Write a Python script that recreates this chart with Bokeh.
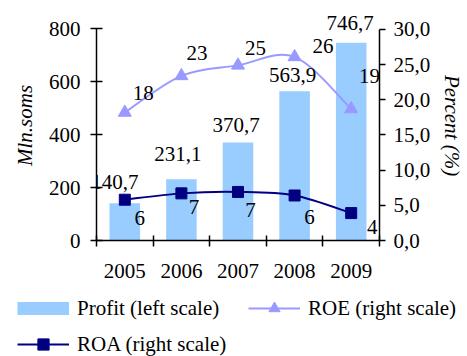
from bokeh.plotting import figure
from bokeh.layouts import column
from bokeh.models import (ColumnDataSource, Range1d, LinearAxis, FixedTicker,
                          CustomJSTickFormatter, LabelSet, Legend, LegendItem)
from bokeh.core.properties import value
from bokeh.embed import file_html
from bokeh.resources import INLINE

# ---- data ---------------------------------------------------------------
years = ["2005", "2006", "2007", "2008", "2009"]
profit = [140.7, 231.1, 370.7, 563.9, 746.7]          # Mln. soms
roe = [18.2, 23.4, 24.9, 26.1, 18.7]                  # %
roa = [5.8, 6.7, 6.9, 6.4, 3.9]                       # %
left_ticks = [0, 200, 400, 600, 800]
right_ticks = [0, 5, 10, 15, 20, 25, 30]

# ---- label placement (screen px, y up) ----------------------------------
bar_dx = [-10, -3.5, -2, -2, -1]
bar_dy = [14.5, 18.8, 10.2, 9.1, 12.4]
roe_dx = [18.4, 15.7, 17.5, 28.3, 18.3]
roe_dy = [19, 22.5, 17.5, 10.9, 32.5]
roa_dx = [15, 12.6, 12.4, 15, 21]
roa_dy = [-18, -14, -18.3, -21.7, -14.4]

FONT = "Liberation Serif"
FS = "21px"
BAR_COLOR = "#99CCFF"
ROE_COLOR = "#9999FF"
ROA_COLOR = "#000080"

n = len(years)
xc = [i + 0.5 for i in range(n)]


def comma(v, digits):
    return f"{v:.{digits}f}".replace(".", ",")


def smooth_segments(xs, ys):
    """Cubic Bezier pieces through the points (Catmull-Rom style smoothing)."""
    seg = dict(x0=[], y0=[], x1=[], y1=[], cx0=[], cy0=[], cx1=[], cy1=[])
    m = len(xs)
    for i in range(m - 1):
        xp, yp = (xs[i - 1], ys[i - 1]) if i > 0 else (xs[i], ys[i])
        xn, yn = (xs[i + 2], ys[i + 2]) if i + 2 < m else (xs[i + 1], ys[i + 1])
        seg["x0"].append(xs[i]); seg["y0"].append(ys[i])
        seg["x1"].append(xs[i + 1]); seg["y1"].append(ys[i + 1])
        seg["cx0"].append(xs[i] + (xs[i + 1] - xp) / 6)
        seg["cy0"].append(ys[i] + (ys[i + 1] - yp) / 6)
        seg["cx1"].append(xs[i + 1] - (xn - xs[i]) / 6)
        seg["cy1"].append(ys[i + 1] - (yn - ys[i]) / 6)
    return seg


src = ColumnDataSource(dict(
    x=xc, profit=profit, roe=roe, roa=roa,
    plabel=[comma(v, 1) for v in profit],
    elabel=[f"{v:.0f}" for v in roe],
    alabel=[f"{v:.0f}" for v in roa],
    bdx=bar_dx, bdy=bar_dy, edx=roe_dx, edy=roe_dy, adx=roa_dx, ady=roa_dy,
))

p = figure(width=467, height=288, output_backend="svg", toolbar_location=None,
           x_range=Range1d(0, n), y_range=Range1d(0, 869),
           min_border_left=96, min_border_right=84,
           min_border_top=10, min_border_bottom=48)
p.frame_align = False
p.extra_y_ranges = {"pct": Range1d(0, 32.7)}
p.xgrid.visible = False
p.ygrid.visible = False
p.outline_line_color = None
p.background_fill_color = "white"
p.border_fill_color = "white"

# ---- marks --------------------------------------------------------------
p.vbar(x="x", top="profit", width=0.54, source=src,
       fill_color=BAR_COLOR, line_color=None)

p.bezier(source=ColumnDataSource(smooth_segments(xc, roe)),
         x0="x0", y0="y0", x1="x1", y1="y1", cx0="cx0", cy0="cy0", cx1="cx1", cy1="cy1",
         line_color=ROE_COLOR, line_width=2, y_range_name="pct")
p.scatter("x", "roe", source=src, marker="triangle", size=13,
          fill_color=ROE_COLOR, line_color=ROE_COLOR, y_range_name="pct")

p.bezier(source=ColumnDataSource(smooth_segments(xc, roa)),
         x0="x0", y0="y0", x1="x1", y1="y1", cx0="cx0", cy0="cy0", cx1="cx1", cy1="cy1",
         line_color=ROA_COLOR, line_width=2, y_range_name="pct")
p.scatter("x", "roa", source=src, marker="square", size=11,
          fill_color=ROA_COLOR, line_color=ROA_COLOR, y_range_name="pct")

# ---- value labels -------------------------------------------------------
common = dict(source=src, text_font=value(FONT), text_font_size=FS, text_color="black")
p.add_layout(LabelSet(x="x", y="profit", text="plabel", x_offset="bdx", y_offset="bdy",
                      text_align="center", text_baseline="alphabetic", **common))
p.add_layout(LabelSet(x="x", y="roe", text="elabel", x_offset="edx", y_offset="edy",
                      text_align="center", text_baseline="middle",
                      y_range_name="pct", **common))
p.add_layout(LabelSet(x="x", y="roa", text="alabel", x_offset="adx", y_offset="ady",
                      text_align="center", text_baseline="middle",
                      y_range_name="pct", **common))

# ---- axes ---------------------------------------------------------------
def style_axis(ax):
    ax.axis_line_color = "black"
    ax.axis_line_width = 1.5
    ax.major_tick_line_color = "black"
    ax.major_tick_line_width = 1.5
    ax.minor_tick_line_color = None
    ax.major_label_text_font = FONT
    ax.major_label_text_font_size = FS
    ax.major_label_text_color = "black"
    ax.axis_label_text_font = FONT
    ax.axis_label_text_font_size = FS
    ax.axis_label_text_font_style = "italic"
    ax.axis_label_text_color = "black"


left = p.yaxis[0]
style_axis(left)
left.ticker = FixedTicker(ticks=left_ticks)
left.bounds = (0, 800)
left.major_tick_in = 6
left.major_tick_out = 6
left.major_label_standoff = 10
left.axis_label = "Mln.soms"
left.axis_label_standoff = 9

right = LinearAxis(y_range_name="pct", ticker=FixedTicker(ticks=right_ticks),
                   formatter=CustomJSTickFormatter(code="return tick.toFixed(1).replace('.', ',');"),
                   bounds=(0, 30), axis_label="Percent (%)")
style_axis(right)
right.major_tick_in = 0
right.major_tick_out = 6
right.major_label_standoff = 8
right.axis_label_standoff = 7
p.add_layout(right, "right")

bottom = p.xaxis[0]
style_axis(bottom)
bottom.bounds = (0, n)
bottom.ticker = FixedTicker(ticks=xc, minor_ticks=list(range(n + 1)))
bottom.major_label_overrides = {x: y for x, y in zip(xc, years)}
bottom.major_tick_line_color = None
bottom.major_tick_in = 0
bottom.major_tick_out = 0
bottom.minor_tick_line_color = "black"
bottom.minor_tick_line_width = 1.5
bottom.minor_tick_in = 5
bottom.minor_tick_out = 6
bottom.major_label_standoff = 17

# ---- legend strip under the chart ---------------------------------------
# The strip's ranges sit away from the data, so its renderers only lend
# their styling to the legend keys.
lf = figure(width=467, height=68, output_backend="svg", toolbar_location=None,
            x_range=Range1d(0, 1), y_range=Range1d(-2, -1),
            x_axis_location=None, y_axis_location=None,
            min_border=0, min_border_left=0, min_border_right=0,
            min_border_top=0, min_border_bottom=0, outline_line_color=None)
lf.frame_align = False
lf.xgrid.visible = False
lf.ygrid.visible = False
lf.border_fill_color = "white"
lf.background_fill_color = "white"

swatch = lf.line("x", "profit", source=src, line_color=BAR_COLOR, line_width=13, line_cap="butt")
roe_key = lf.line("x", "roe", source=src, line_color=ROE_COLOR, line_width=2)
roe_mark = lf.scatter("x", "roe", source=src, marker="triangle", size=13,
                      fill_color=ROE_COLOR, line_color=ROE_COLOR)
roa_key = lf.line("x", "roa", source=src, line_color=ROA_COLOR, line_width=2)
roa_mark = lf.scatter("x", "roa", source=src, marker="square", size=11,
                      fill_color=ROA_COLOR, line_color=ROA_COLOR)

legend = Legend(items=[
    LegendItem(label="Profit (left scale)", renderers=[swatch]),
    LegendItem(label="ROE (right scale)", renderers=[roe_key, roe_mark]),
    LegendItem(label="ROA (right scale)", renderers=[roa_key, roa_mark]),
], orientation="horizontal", ncols=2, location=(17, -2))
legend.label_text_font = FONT
legend.label_text_font_size = FS
legend.label_text_color = "black"
legend.glyph_width = 52
legend.glyph_height = 28
legend.label_height = 24
legend.label_width = 163
legend.label_standoff = 8
legend.spacing = 8
legend.padding = 0
legend.margin = 0
legend.border_line_color = None
legend.background_fill_alpha = 0
lf.add_layout(legend, "center")

open("out.html", "w").write(file_html(column(p, lf), INLINE))
